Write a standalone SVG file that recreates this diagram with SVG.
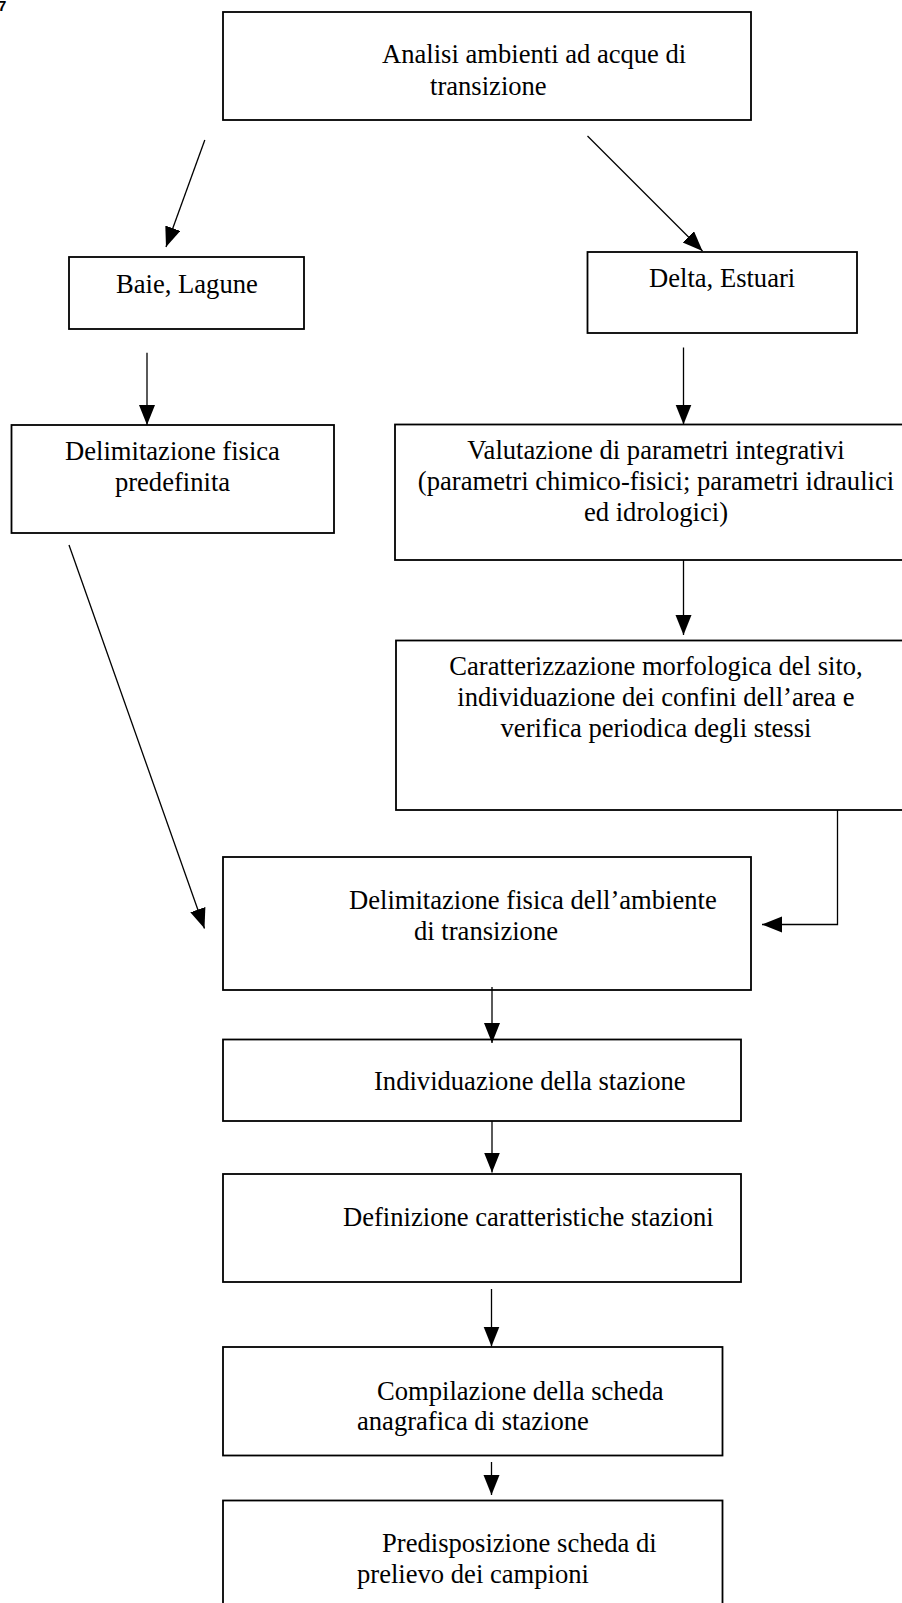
<svg xmlns="http://www.w3.org/2000/svg" width="902" height="1603" viewBox="0 0 902 1603">
<style>
.box{fill:#fff;stroke:#000;stroke-width:1.8}
.t{font-family:"Liberation Serif","Times New Roman",serif;font-size:26.6px;fill:#000}
.m{text-anchor:middle}
.c{fill:none;stroke:#000;stroke-width:1.3}
</style>
<defs>
<marker id="ah" markerUnits="userSpaceOnUse" markerWidth="22" markerHeight="18" refX="20" refY="8" orient="auto">
<path d="M0,0 L20,8 L0,16 z" fill="#000"/>
</marker>
</defs>
<rect width="902" height="1603" fill="#fff"/>
<text x="-2" y="11" font-family="Liberation Sans,Arial,sans-serif" font-size="15" font-weight="bold">7</text>
<g id="n-analisi"><rect class="box" x="223" y="12" width="528" height="108"/>
<text class="t" x="382" y="63">Analisi ambienti ad acque di</text>
<text class="t" x="430" y="95">transizione</text></g>
<g id="n-baie"><rect class="box" x="69" y="257" width="235" height="72"/>
<text class="t" x="116" y="293">Baie, Lagune</text></g>
<g id="n-delta"><rect class="box" x="587.5" y="252" width="269.5" height="81"/>
<text class="t" x="649" y="287">Delta, Estuari</text></g>
<g id="n-delimpred"><rect class="box" x="11.5" y="425" width="322.5" height="108"/>
<text class="t m" x="172.5" y="460">Delimitazione fisica</text>
<text class="t m" x="172.5" y="491">predefinita</text></g>
<g id="n-valutazione"><rect class="box" x="395" y="424.5" width="525" height="135.5"/>
<text class="t m" x="656" y="459">Valutazione di parametri integrativi</text>
<text class="t m" x="656" y="490">(parametri chimico-fisici; parametri idraulici</text>
<text class="t m" x="656" y="521">ed idrologici)</text></g>
<g id="n-caratterizzazione"><rect class="box" x="396" y="640.5" width="524" height="169.5"/>
<text class="t m" x="656" y="675">Caratterizzazione morfologica del sito,</text>
<text class="t m" x="656" y="706">individuazione dei confini dell’area e</text>
<text class="t m" x="656" y="737">verifica periodica degli stessi</text></g>
<g id="n-delimamb"><rect class="box" x="223" y="857" width="528" height="133"/>
<text class="t" x="349" y="909">Delimitazione fisica dell’ambiente</text>
<text class="t" x="414" y="940">di transizione</text></g>
<g id="n-individuazione"><rect class="box" x="223" y="1039.5" width="518" height="81.5"/>
<text class="t" x="374" y="1090">Individuazione della stazione</text></g>
<g id="n-definizione"><rect class="box" x="223" y="1174" width="518" height="108"/>
<text class="t" x="343" y="1226">Definizione caratteristiche stazioni</text></g>
<g id="n-compilazione"><rect class="box" x="223" y="1347" width="499.5" height="108.5"/>
<text class="t" x="377" y="1400">Compilazione della scheda</text>
<text class="t" x="357" y="1430">anagrafica di stazione</text></g>
<g id="n-predisposizione"><rect class="box" x="223" y="1500.5" width="499.5" height="130"/>
<text class="t" x="382" y="1552">Predisposizione scheda di</text>
<text class="t" x="357" y="1583">prelievo dei campioni</text></g>
<g id="connectors">
<line class="c" x1="204.8" y1="140" x2="166" y2="247" marker-end="url(#ah)"/>
<line class="c" x1="587.5" y1="136" x2="702.5" y2="251" marker-end="url(#ah)"/>
<line class="c" x1="147" y1="352.7" x2="147" y2="425" marker-end="url(#ah)"/>
<line class="c" x1="683.5" y1="347.5" x2="683.5" y2="424.5" marker-end="url(#ah)"/>
<line class="c" x1="683.5" y1="560" x2="683.5" y2="635" marker-end="url(#ah)"/>
<line class="c" x1="69" y1="545" x2="204.5" y2="928.5" marker-end="url(#ah)"/>
<polyline class="c" points="837.5,810 837.5,924.5 762,924.5" marker-end="url(#ah)"/>
<line class="c" x1="492" y1="987" x2="492" y2="1043" marker-end="url(#ah)"/>
<line class="c" x1="492" y1="1121" x2="492" y2="1172.5" marker-end="url(#ah)"/>
<line class="c" x1="491.5" y1="1289" x2="491.5" y2="1346.5" marker-end="url(#ah)"/>
<line class="c" x1="491.5" y1="1462" x2="491.5" y2="1495" marker-end="url(#ah)"/>
</g>
</svg>
